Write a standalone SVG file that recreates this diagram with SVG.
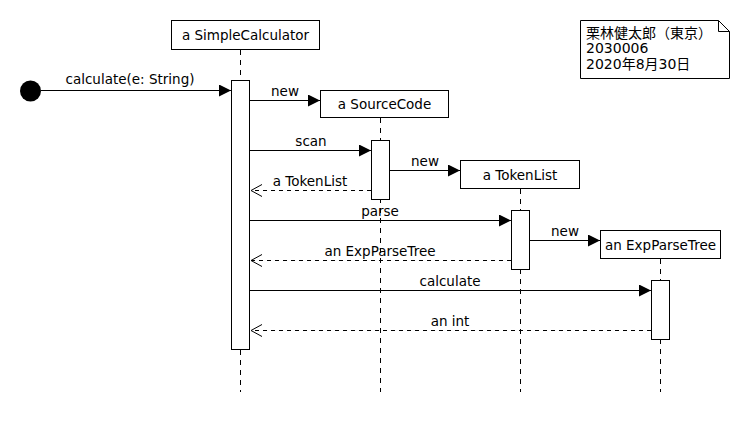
<svg xmlns="http://www.w3.org/2000/svg" width="750" height="430" viewBox="0 0 750 430">
<style>
.box{fill:#fff;stroke:#000;stroke-width:1}
.act{fill:#fff;stroke:#000;stroke-width:1}
.life{stroke:#000;stroke-width:1;stroke-dasharray:5,5;fill:none}
.msg{stroke:#000;stroke-width:1;fill:none}
.ret{stroke:#000;stroke-width:1;fill:none;stroke-dasharray:4,4}
text{font-family:"DejaVu Sans","Noto Sans CJK JP",sans-serif;font-size:13.5px;fill:#000}
.note{font-family:"DejaVu Sans","Noto Sans CJK JP",sans-serif;font-size:14px}
.c{text-anchor:middle}
</style>
<defs>
<marker id="fill" markerWidth="13" markerHeight="12" refX="12" refY="6" orient="auto" markerUnits="userSpaceOnUse">
<path d="M0,0 L12,6 L0,12 z" fill="#000"/>
</marker>
<marker id="open" markerWidth="14" markerHeight="14" refX="12" refY="7" orient="auto" markerUnits="userSpaceOnUse">
<path d="M1,1 L12,7 L1,13" fill="none" stroke="#000" stroke-width="1"/>
</marker>
</defs>
<rect width="750" height="430" fill="#fff"/>
<g id="lifelines">
<line class="life" x1="240.5" y1="50" x2="240.5" y2="392"/>
<line class="life" x1="380.5" y1="118" x2="380.5" y2="392"/>
<line class="life" x1="520.5" y1="189" x2="520.5" y2="392"/>
<line class="life" x1="660.5" y1="259" x2="660.5" y2="392"/>
</g>
<g id="start">
<circle cx="30.5" cy="91" r="10.5" fill="#000"/>
</g>
<g id="simpleCalculator">
<rect class="box" x="171.5" y="20.5" width="148" height="29"/>
<text class="c" x="245.5" y="40">a SimpleCalculator</text>
<rect class="act" x="231.5" y="80.5" width="18" height="269"/>
</g>
<g id="sourceCode">
<rect class="box" x="320.5" y="90.5" width="128" height="27"/>
<text class="c" x="384.5" y="109">a SourceCode</text>
<rect class="act" x="371.5" y="140.5" width="18" height="59"/>
</g>
<g id="tokenList">
<rect class="box" x="460.5" y="160.5" width="119" height="28"/>
<text class="c" x="520" y="180">a TokenList</text>
<rect class="act" x="511.5" y="210.5" width="18" height="59"/>
</g>
<g id="expParseTree">
<rect class="box" x="600.5" y="230.5" width="120" height="28"/>
<text class="c" x="660.5" y="250">an ExpParseTree</text>
<rect class="act" x="651.5" y="280.5" width="18" height="59"/>
</g>
<g id="note">
<path class="box" d="M580.5,20.5 L718.5,20.5 L729.5,31.5 L729.5,78.5 L580.5,78.5 Z"/>
<path d="M718.5,20.5 L718.5,31.5 L729.5,31.5" fill="none" stroke="#000"/>
<text class="note" x="586" y="38">栗林健太郎（東京）</text>
<text class="note" x="586" y="53">2030006</text>
<text class="note" x="586" y="69">2020年8月30日</text>
</g>
<g id="connectors">
<line class="msg" x1="41" y1="90.5" x2="231" y2="90.5" marker-end="url(#fill)"/>
<text class="c" x="130" y="84">calculate(e: String)</text>
<line class="msg" x1="250" y1="100.5" x2="320" y2="100.5" marker-end="url(#fill)"/>
<text class="c" x="285" y="96">new</text>
<line class="msg" x1="250" y1="150.5" x2="371" y2="150.5" marker-end="url(#fill)"/>
<text class="c" x="311" y="146">scan</text>
<line class="msg" x1="390" y1="170.5" x2="460" y2="170.5" marker-end="url(#fill)"/>
<text class="c" x="425" y="166">new</text>
<line class="ret" x1="371" y1="190.5" x2="251" y2="190.5" marker-end="url(#open)"/>
<text class="c" x="310" y="186">a TokenList</text>
<line class="msg" x1="250" y1="220.5" x2="511" y2="220.5" marker-end="url(#fill)"/>
<text class="c" x="380" y="216">parse</text>
<line class="msg" x1="530" y1="240.5" x2="600" y2="240.5" marker-end="url(#fill)"/>
<text class="c" x="565" y="236">new</text>
<line class="ret" x1="511" y1="260.5" x2="251" y2="260.5" marker-end="url(#open)"/>
<text class="c" x="380" y="256">an ExpParseTree</text>
<line class="msg" x1="250" y1="290.5" x2="651" y2="290.5" marker-end="url(#fill)"/>
<text class="c" x="450" y="286">calculate</text>
<line class="ret" x1="651" y1="330.5" x2="251" y2="330.5" marker-end="url(#open)"/>
<text class="c" x="450" y="326">an int</text>
</g>
</svg>
